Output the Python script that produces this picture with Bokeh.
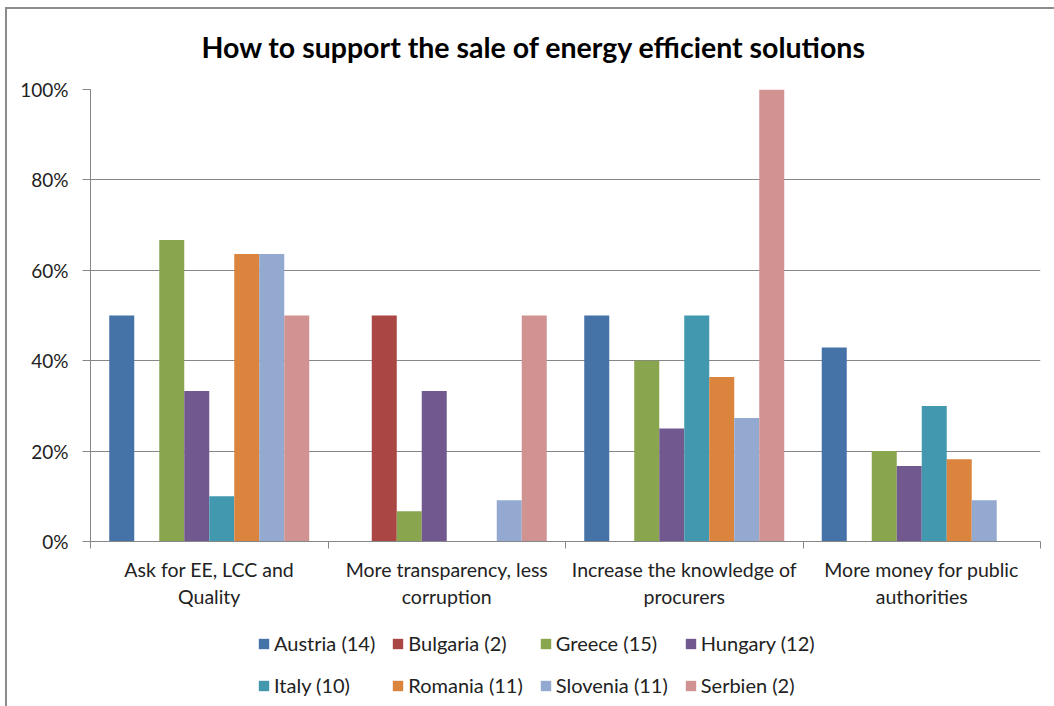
import numpy as np
from bokeh.plotting import figure
from bokeh.layouts import column
from bokeh.models import (ColumnDataSource, Range1d, FixedTicker, NumeralTickFormatter,
                          Legend, LegendItem, Title, InlineStyleSheet)
from bokeh.transform import dodge
from bokeh.embed import file_html
from bokeh.resources import INLINE

categories = ["Ask for EE, LCC and\nQuality",
              "More transparency, less\ncorruption",
              "Increase the knowledge of\nprocurers",
              "More money for public\nauthorities"]
series = ["Austria (14)", "Bulgaria (2)", "Greece (15)", "Hungary (12)",
          "Italy (10)", "Romania (11)", "Slovenia (11)", "Serbien (2)"]
austria  = [0.50, 0.00, 0.50, 0.429]
bulgaria = [0.00, 0.50, 0.00, 0.00]
greece   = [0.667, 0.067, 0.40, 0.20]
hungary  = [0.333, 0.333, 0.25, 0.167]
italy    = [0.10, 0.00, 0.50, 0.30]
romania  = [0.636, 0.00, 0.364, 0.182]
slovenia = [0.636, 0.091, 0.273, 0.091]
serbien  = [0.50, 0.50, 1.00, 0.00]
values = [austria, bulgaria, greece, hungary, italy, romania, slovenia, serbien]
colors = ["#4572A7", "#AA4643", "#89A54E", "#71588F",
          "#4198AF", "#DB843D", "#93A9CF", "#D19392"]
y_ticks = [0, 0.2, 0.4, 0.6, 0.8, 1.0]
title_text = "How to support the sale of energy efficient solutions"

FONT = "Lato"
GRID = "#868686"

n_cat = len(categories)
centers = [i + 0.5 for i in range(n_cat)]
data = {"x": centers}
for s, v in zip(series, values):
    data[s] = v
source = ColumnDataSource(data)

# ---- main chart ----
p = figure(width=1052, height=615, output_backend="svg", toolbar_location=None,
           x_range=Range1d(0, n_cat), y_range=Range1d(0, 1),
           min_border_left=90, min_border_right=12, min_border_top=89,
           min_border_bottom=74)
p.outline_line_color = None
p.background_fill_color = "white"
p.border_fill_color = None

bw = 1 / 9.5
for i, (s, c) in enumerate(zip(series, colors)):
    p.vbar(x=dodge("x", (i - 3.5) * bw, range=p.x_range), top=s, width=bw,
           source=source, fill_color=c, line_color=None)

p.title = Title(text=title_text, align="left", offset=111, standoff=52,
                text_font=FONT, text_font_size="28.5px", text_font_style="bold",
                text_color="#000000")

ya = p.yaxis[0]
ya.ticker = FixedTicker(ticks=y_ticks)
ya.formatter = NumeralTickFormatter(format="0%")
ya.axis_line_color = GRID
ya.major_tick_line_color = GRID
ya.major_tick_out = 8
ya.major_tick_in = 0
ya.minor_tick_line_color = None
ya.major_label_text_font = FONT
ya.major_label_text_font_size = "19px"
ya.major_label_text_color = "#222222"
ya.major_label_standoff = 14

xa = p.xaxis[0]
xa.ticker = FixedTicker(ticks=centers, minor_ticks=list(range(n_cat + 1)))
xa.major_label_overrides = {c: lab for c, lab in zip(centers, categories)}
xa.axis_line_color = GRID
xa.major_tick_line_color = None
xa.major_tick_out = 0
xa.major_tick_in = 0
xa.minor_tick_line_color = GRID
xa.minor_tick_out = 7
xa.minor_tick_in = 0
xa.major_label_text_font = FONT
xa.major_label_text_font_size = "19.5px"
xa.major_label_text_color = "#222222"
xa.major_label_standoff = 9

p.xgrid.grid_line_color = None
p.ygrid.ticker = FixedTicker(ticks=y_ticks[1:])
p.ygrid.grid_line_color = GRID

# ---- legend strip ----
pl = figure(width=1052, height=91, output_backend="svg", toolbar_location=None,
            x_range=Range1d(0, 1), y_range=Range1d(0, 1),
            min_border_left=0, min_border_right=0, min_border_top=0, min_border_bottom=0)
pl.axis.visible = False
pl.grid.grid_line_color = None
pl.outline_line_color = None
pl.border_fill_color = None
pl.background_fill_color = None
items = []
for s, c in zip(series, colors):
    # a single off-range bar per series so that the legend swatch is drawn
    r = pl.vbar(x=[5], top=[0], width=0.1, fill_color=c, line_color=None)
    items.append(LegendItem(label=s, renderers=[r]))
legend = Legend(items=items, ncols=4, orientation="horizontal", location=(167, 8),
                label_text_font=FONT, label_text_font_size="20px",
                label_text_color="#222222", glyph_width=13, glyph_height=13,
                label_height=26, spacing=16, label_standoff=4, margin=0,
                padding=0, border_line_color=None, background_fill_alpha=0)
pl.add_layout(legend, "center")

frame_css = InlineStyleSheet(css="""
:host { position: relative; }
:host::after {
  content: ""; position: absolute; left: 5px; top: 7px; right: -20px; bottom: -20px;
  border-left: 2px solid #8c8c8c; border-top: 2px solid #8c8c8c;
  pointer-events: none; z-index: 10;
}
""")
layout = column(p, pl, spacing=0, stylesheets=[frame_css])

open("out.html", "w").write(file_html(layout, INLINE))
